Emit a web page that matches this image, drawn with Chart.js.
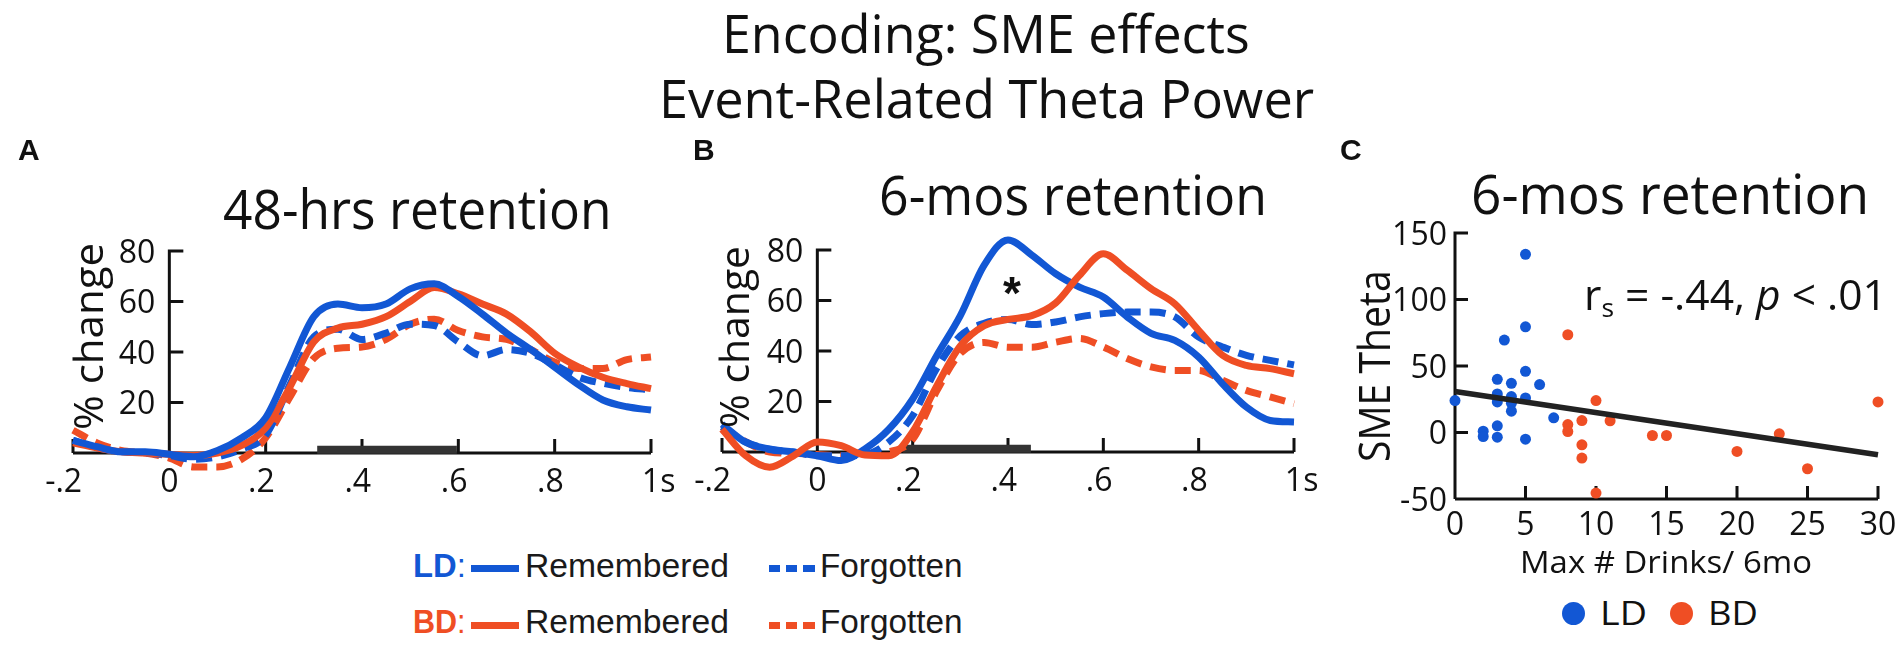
<!DOCTYPE html>
<html>
<head>
<meta charset="utf-8">
<title>Encoding: SME effects - Event-Related Theta Power</title>
<script src="https://cdn.jsdelivr.net/npm/chart.js@4.4.1/dist/chart.umd.min.js"></script>
<style>
  html, body { margin: 0; padding: 0; background: #fff; }
  body { position: relative; width: 1904px; height: 650px; overflow: hidden; }
  canvas { position: absolute; }
  .lbl { position: absolute; white-space: nowrap; line-height: 1; color: #111; }
  .bl { display: inline-block; width: 0; height: 0; }
  .sub { font-size: 0.62em; vertical-align: -0.28em; }
  .swatch { position: absolute; }
</style>
</head>
<body>
<canvas id="chartA" width="700" height="380" style="left:0;top:160px"></canvas>
<canvas id="chartB" width="700" height="380" style="left:660px;top:160px"></canvas>
<canvas id="chartC" width="574" height="400" style="left:1330px;top:160px"></canvas>
<script>
// time after stimulus onset (s), one sample every 50 ms
const times = [-0.2, -0.15, -0.1, -0.05, 0, 0.05, 0.1, 0.15, 0.2, 0.25, 0.3, 0.35, 0.4,
               0.45, 0.5, 0.55, 0.6, 0.65, 0.7, 0.75, 0.8, 0.85, 0.9, 0.95, 1.0];

// A: 48-hrs retention, % change in theta power
const aLdRem  = [5, 2.5, 0.5, 0.5, -0.5, -1.5, 1, 6, 14, 34, 54, 59, 57.5, 59, 65, 67, 62, 55, 47.5, 41, 34, 27, 21, 18.3, 17];
const aLdForg = [5, 2, 0.5, 0, -1, -2.5, -1.5, 1.5, 7, 27, 46, 49, 45, 47.5, 51, 50.5, 44, 38.5, 41, 39.5, 35, 30, 27.6, 26, 25];
const aBdRem  = [4, 2, 0.5, 0, -0.5, -1, 0, 3, 10, 26, 44, 49.5, 51, 54, 60, 65.5, 63, 59, 55, 48, 39.5, 34, 30, 27.5, 25.5];
const aBdForg = [9, 4, 1, 0, -2, -5.5, -5.5, -2.5, 6, 22, 37.5, 41.5, 42, 45, 51, 53, 48.5, 46, 45, 41, 36, 33.5, 33.5, 37, 38];

// B: 6-mos retention
const bLdRem  = [11, 3.8, 1.2, 0, -1.5, -3.4, 1.2, 9, 21, 38, 54, 74, 84, 78, 70.6, 65.3, 61.4, 53.5, 47, 44.2, 37.6, 27, 17.8, 12.5, 11.9];
const bLdForg = [10, 4, 1, 0, -1.5, -1.5, -1, 4, 14.4, 33, 46, 51, 52.5, 50.5, 51.5, 53.5, 54.8, 55.4, 55.4, 53.5, 45.5, 41.6, 38.3, 36.3, 34.5];
const bBdRem  = [9, -1.5, -6, -1.5, 4, 2.5, -1.2, -1.5, 8, 26, 42, 50, 52.5, 54, 59, 70, 78.5, 72, 64.7, 58.7, 48.2, 38.3, 34.3, 33, 31];
const bBdForg = [10, 4, 0, -0.5, -1, -1.5, -1, 0, 5, 24, 39, 43.4, 41.5, 41.5, 43.5, 45, 41.6, 37, 33.7, 32.3, 32.3, 28.4, 24.4, 21.8, 19.1];

// significant time windows (s)
const sigA = [0.307, 0.597];
const sigB = [0.18, 0.448];

// C: max drinks in 6 months vs SME theta
const ldDrinks = [5, 5, 3.5, 5, 3, 4, 6, 3, 4, 5, 0, 3, 4, 4, 7, 3, 2, 2, 3, 5];
const ldTheta  = [134, 79.5, 69.5, 46, 40, 37, 36, 29, 27, 26, 24, 23, 22, 16, 11, 5, 1, -3, -3.5, -5];
const bdDrinks = [8, 10, 30, 8, 9, 11, 8, 14, 15, 23, 9, 9, 20, 25, 10];
const bdTheta  = [73.5, 24, 23, 6, 9, 8.75, 0.75, -2.25, -2.25, -1, -9.25, -19.25, -14.25, -27.25, -45.5];
const fitDrinks = [0, 30];
const fitTheta  = [30.8, -16.8];

// ticks
const timeTicks = [-0.2, 0, 0.2, 0.4, 0.6, 0.8, 1.0];
const timeTickLabels = ['-.2', '0', '.2', '.4', '.6', '.8', '1s'];
const powerTicks = [20, 40, 60, 80];
const drinkTicks = [0, 5, 10, 15, 20, 25, 30];
const thetaTicks = [-50, 0, 50, 100, 150];

const BLUE = '#1257d4';
const RED = '#ef4e24';
const INK = '#111';
const HUMAN = '"Open Sans", "Noto Sans", sans-serif';
const SANS = '"Liberation Sans", Arial, sans-serif';

const pts = (xs, ys) => xs.map((x, i) => ({x: x, y: ys[i]}));

function curve(values, color, dashed) {
  return {
    data: pts(times, values),
    borderColor: color,
    borderWidth: 7,
    borderDash: dashed ? [16, 9] : [],
    borderCapStyle: 'butt',
    pointRadius: 0,
    cubicInterpolationMode: 'monotone',
    fill: false,
    clip: false
  };
}

function sigBar(span) {
  return {
    data: [{x: span[0], y: 1.3}, {x: span[1], y: 1.3}],
    borderColor: '#333',
    borderWidth: 8,
    borderCapStyle: 'butt',
    pointRadius: 0,
    tension: 0,
    clip: false
  };
}

// axes with inward ticks, drawn from the chart's own scales
const axisPainter = {
  id: 'axisPainter',
  beforeDatasetsDraw(chart, args, o) {
    const ctx = chart.ctx;
    const xs = chart.scales.x, ys = chart.scales.y;
    const ax = xs.getPixelForValue(o.yAxisAt);
    const ay = ys.getPixelForValue(o.xAxisAt);
    ctx.save();
    ctx.strokeStyle = INK;
    ctx.fillStyle = INK;
    ctx.lineWidth = 3;
    ctx.beginPath();
    ctx.moveTo(xs.left, ay);
    ctx.lineTo(xs.right, ay);
    ctx.moveTo(ax, ys.getPixelForValue(o.yTop) - 1.5);
    ctx.lineTo(ax, ay);
    o.xTicks.forEach(v => {
      const p = xs.getPixelForValue(v);
      ctx.moveTo(p, ay);
      ctx.lineTo(p, ay - o.tickLen);
    });
    o.yTicks.forEach(v => {
      const p = ys.getPixelForValue(v);
      ctx.moveTo(ax, p);
      ctx.lineTo(ax + o.tickLen, p);
    });
    ctx.stroke();
    ctx.font = o.font;
    ctx.textBaseline = 'alphabetic';
    // the digits sit over the tick, "-." before and "s" after hang out
    ctx.textAlign = 'left';
    o.xTicks.forEach((v, i) => {
      const txt = o.xLabels[i];
      const m = txt.match(/^([^0-9]*)([0-9]+)(.*)$/);
      const left = xs.getPixelForValue(v) - ctx.measureText(m[2]).width / 2 - ctx.measureText(m[1]).width;
      ctx.fillText(txt, left, ay + o.xDrop);
    });
    ctx.textAlign = 'right';
    o.yTicks.forEach((v, i) => ctx.fillText(o.yLabels[i], ax - o.yGap, ys.getPixelForValue(v) + 11.5));
    ctx.restore();
  }
};

function timeChart(id, datasets, padding) {
  return new Chart(document.getElementById(id), {
    type: 'line',
    data: {datasets: datasets},
    options: {
      responsive: false,
      animation: false,
      events: [],
      layout: {padding: padding, autoPadding: false},
      scales: {
        x: {type: 'linear', min: -0.2, max: 1.0, display: false},
        y: {min: 0, max: 80, display: false}
      },
      plugins: {
        legend: {display: false},
        tooltip: {enabled: false},
        axisPainter: {
          yAxisAt: 0, xAxisAt: 0, yTop: 80, tickLen: 14,
          xTicks: timeTicks, xLabels: timeTickLabels, xDrop: 39,
          yTicks: powerTicks, yLabels: powerTicks.map(String), yGap: 14,
          font: '32px ' + HUMAN
        }
      }
    },
    plugins: [axisPainter]
  });
}

function label(html, o) {
  const el = document.createElement('div');
  el.className = 'lbl';
  el.innerHTML = html + '<span class="bl"></span>';
  el.style.font = (o.weight || 400) + ' ' + o.size + 'px ' + (o.family || HUMAN);
  if (o.color) el.style.color = o.color;
  document.body.appendChild(el);
  const w = el.offsetWidth;
  const b = el.querySelector('.bl').offsetTop;
  const k = o.width ? o.width / w : 1;
  el.style.transformOrigin = '0px ' + b + 'px';
  if (o.rotate) {
    el.style.left = o.bx + 'px';
    el.style.top = (o.cy + o.width / 2 - b) + 'px';
    el.style.transform = 'rotate(-90deg) scaleX(' + k + ')';
  } else {
    const left = o.cx !== undefined ? o.cx - w * k / 2 : o.left;
    el.style.left = left + 'px';
    el.style.top = (o.base - b) + 'px';
    el.style.transform = 'scaleX(' + k + ')';
  }
}

function swatch(left, cy, width, color, dashed) {
  const el = document.createElement('div');
  el.className = 'swatch';
  el.style.left = left + 'px';
  el.style.top = (cy - 3.5) + 'px';
  el.style.width = width + 'px';
  el.style.height = '7px';
  el.style.background = dashed
    ? 'repeating-linear-gradient(to right, ' + color + ' 0 11.5px, transparent 11.5px 17px)'
    : color;
  document.body.appendChild(el);
}

function dot(cx, cy, r, color) {
  const el = document.createElement('div');
  el.className = 'swatch';
  el.style.left = (cx - r) + 'px';
  el.style.top = (cy - r) + 'px';
  el.style.width = el.style.height = (2 * r) + 'px';
  el.style.borderRadius = '50%';
  el.style.background = color;
  document.body.appendChild(el);
}

const draw = () => {
  timeChart('chartA', [
    curve(aLdRem, BLUE, false),
    curve(aBdRem, RED, false),
    curve(aLdForg, BLUE, true),
    curve(aBdForg, RED, true),
    sigBar(sigA)
  ], {left: 73, right: 49, top: 91, bottom: 87});

  timeChart('chartB', [
    curve(bBdRem, RED, false),
    curve(bLdRem, BLUE, false),
    curve(bLdForg, BLUE, true),
    curve(bBdForg, RED, true),
    sigBar(sigB)
  ], {left: 62, right: 66, top: 90, bottom: 88});

  new Chart(document.getElementById('chartC'), {
    type: 'scatter',
    data: {
      datasets: [
        {data: pts(fitDrinks, fitTheta), showLine: true, borderColor: '#222', borderWidth: 5.5,
         pointRadius: 0, tension: 0, clip: false},
        {data: pts(ldDrinks, ldTheta), backgroundColor: BLUE, borderWidth: 0, pointRadius: 5.5, clip: false},
        {data: pts(bdDrinks, bdTheta), backgroundColor: RED, borderWidth: 0, pointRadius: 5.5, clip: false}
      ]
    },
    options: {
      responsive: false,
      animation: false,
      events: [],
      layout: {padding: {left: 125, right: 26, top: 73, bottom: 61}, autoPadding: false},
      scales: {
        x: {type: 'linear', min: 0, max: 30, display: false},
        y: {min: -50, max: 150, display: false}
      },
      plugins: {
        legend: {display: false},
        tooltip: {enabled: false},
        axisPainter: {
          yAxisAt: 0, xAxisAt: -50, yTop: 150, tickLen: 13,
          xTicks: drinkTicks, xLabels: drinkTicks.map(String), xDrop: 36,
          yTicks: thetaTicks, yLabels: thetaTicks.map(String), yGap: 8,
          font: '32px ' + HUMAN
        }
      }
    },
    plugins: [axisPainter]
  });

  // titles
  label('Encoding: SME effects', {cx: 986, base: 53, width: 528, size: 53});
  label('Event-Related Theta Power', {cx: 986, base: 118, width: 655, size: 53});
  label('48-hrs retention', {left: 223, base: 229, width: 389, size: 54});
  label('6-mos retention', {left: 879, base: 215, width: 388, size: 54});
  label('6-mos retention', {left: 1471, base: 214, width: 398, size: 54});
  label('A', {left: 18, base: 160, size: 30, family: SANS, weight: 700});
  label('B', {left: 693, base: 160, size: 30, family: SANS, weight: 700});
  label('C', {left: 1340, base: 160, size: 30, family: SANS, weight: 700});

  // axis titles
  label('% change', {bx: 103, cy: 336, width: 187, size: 40, rotate: true});
  label('% change', {bx: 749, cy: 337, width: 182, size: 40, rotate: true});
  label('SME Theta', {bx: 1390, cy: 366, width: 192, size: 44, rotate: true});
  label('Max # Drinks/ 6mo', {cx: 1666, base: 573, width: 292, size: 31});

  // annotations
  label('r<span class="sub">s</span> = -.44, <i>p</i> &lt; .01', {left: 1584, base: 310, width: 303, size: 42});
  label('*', {cx: 1012, base: 309, size: 46, family: SANS, weight: 700});

  // legend of A/B
  label('<b>LD</b>:', {left: 413, base: 577, width: 53, size: 34, family: SANS, color: BLUE});
  label('<b>BD</b>:', {left: 413, base: 633, width: 53, size: 34, family: SANS, color: RED});
  swatch(471, 568, 48, BLUE, false);
  swatch(471, 625, 48, RED, false);
  swatch(769, 568, 46, BLUE, true);
  swatch(769, 625, 46, RED, true);
  label('Remembered', {left: 525, base: 577, width: 204, size: 34, family: SANS, color: '#1a1a1a'});
  label('Remembered', {left: 525, base: 633, width: 204, size: 34, family: SANS, color: '#1a1a1a'});
  label('Forgotten', {left: 820, base: 577, width: 143, size: 34, family: SANS, color: '#1a1a1a'});
  label('Forgotten', {left: 820, base: 633, width: 143, size: 34, family: SANS, color: '#1a1a1a'});

  // legend of C
  dot(1573, 613, 11.5, BLUE);
  dot(1681, 613, 11.5, RED);
  label('LD', {left: 1600, base: 625, width: 47, size: 32});
  label('BD', {left: 1708, base: 625, width: 50, size: 32});
};

window.addEventListener('load', draw);
</script>
</body>
</html>
